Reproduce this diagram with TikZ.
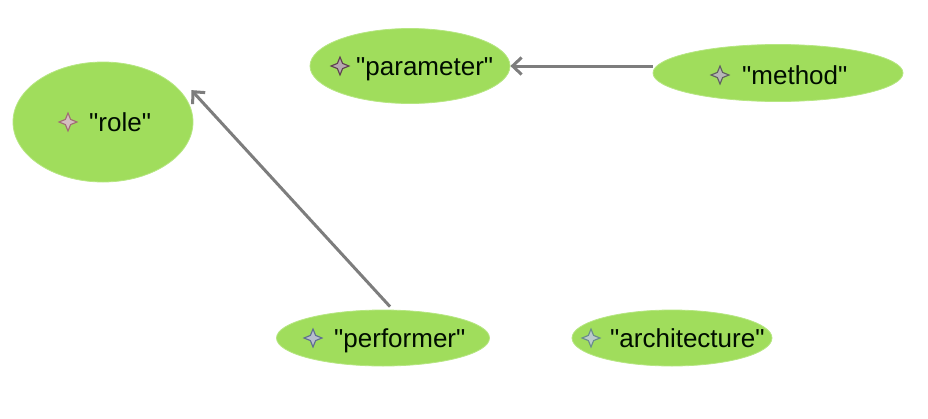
\documentclass[tikz,border=0pt]{standalone}
\usepackage{fontspec}
\newfontfamily\labelfont{Liberation Sans}
\usetikzlibrary{shapes.geometric,arrows.meta}

\definecolor{leaf}{RGB}{160,221,92}
\definecolor{leafrim}{RGB}{182,230,130}
\definecolor{linkgray}{RGB}{125,125,125}
\definecolor{rolestar}{RGB}{160,110,115}
\definecolor{parstar}{RGB}{95,65,80}
\definecolor{metstar}{RGB}{95,95,95}
\definecolor{perstar}{RGB}{95,110,145}
\definecolor{arcstar}{RGB}{105,140,140}

\newcommand{\kstar}[3]{%
  \draw[#3,line width=1.1pt,fill=#3!45!white] (#1,#2) ++(0,-9) -- ++(2.6,6.4) -- ++(6.4,2.6) -- ++(-6.4,2.6)
    -- ++(-2.6,6.4) -- ++(-2.6,-6.4) -- ++(-6.4,-2.6) -- ++(6.4,-2.6) -- cycle;}

\begin{document}
\begin{tikzpicture}[x=1pt,y=-1pt,
  concept/.style={ellipse,draw=leafrim,line width=0.8pt,fill=leaf,inner sep=0pt},
  word/.style={anchor=base west,inner sep=0pt,font=\labelfont\fontsize{26}{29}\selectfont,text=black!95!green},
  link/.style={draw=linkgray,line width=3pt,-{Straight Barb[length=9pt,width=17pt,line width=3pt]}}]

\useasboundingbox (0,0) rectangle (928,418);

% -- concepts
\node[concept,minimum width=180,minimum height=120] (role) at (103,122) {};
\node[concept,minimum width=200,minimum height=75] (parameter) at (410,66) {};
\node[concept,minimum width=250,minimum height=57] (method) at (778,73) {};
\node[concept,minimum width=213,minimum height=56] (performer) at (383,338) {};
\node[concept,minimum width=200,minimum height=56] (architecture) at (672,338) {};

% -- labels
\node[word] (role-t) at (89,131) {"role"};
\node[word] (parameter-t) at (356,75) {"parameter"};
\node[word] (method-t) at (742,84) {"method"};
\node[word] (performer-t) at (334,347) {"performer"};
\node[word] (architecture-t) at (610,347) {"architecture"};

% -- stars
\kstar{68}{122}{rolestar}
\kstar{340}{66}{parstar}
\kstar{720}{75}{metstar}
\kstar{313}{338}{perstar}
\kstar{591}{338}{arcstar}

% -- draw arrows
\draw[link] (method.west |- parameter.east) -- (parameter.east);
\draw[link] ([xshift=7pt,yshift=3pt]performer.north) -- ([xshift=9pt,yshift=3pt]role.20);
\end{tikzpicture}
\end{document}
